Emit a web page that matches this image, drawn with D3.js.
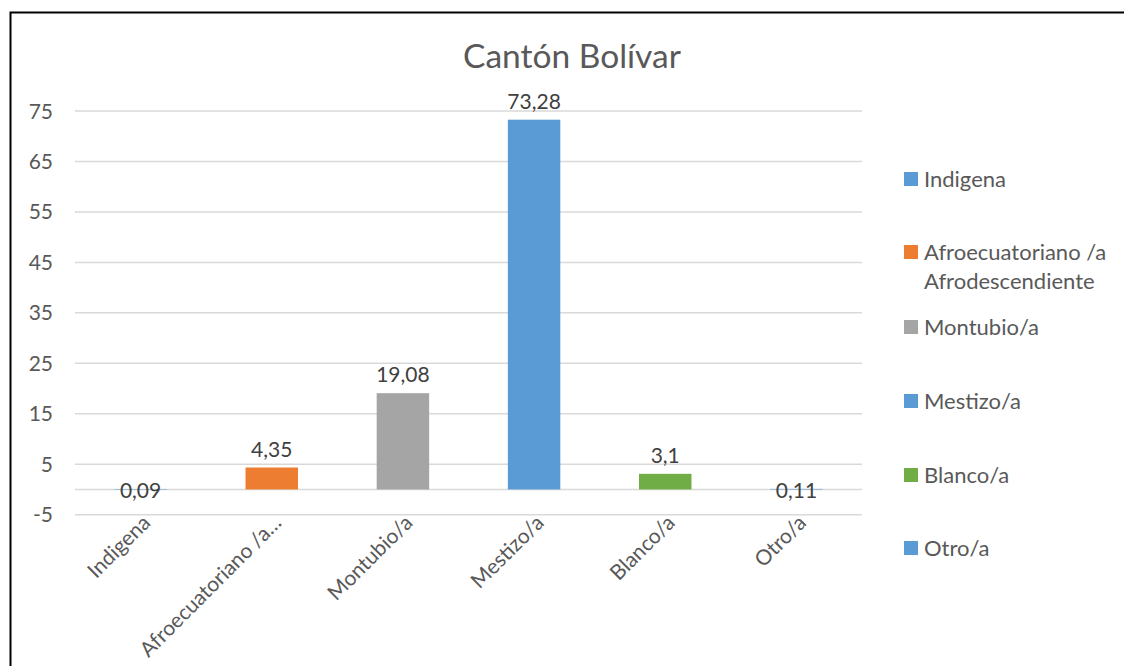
<!DOCTYPE html>
<html>
<head>
<meta charset="utf-8">
<script src="https://cdn.jsdelivr.net/npm/d3@7"></script>
<style>
  body { margin: 0; background: #fff; }
  text { font-family: Lato, "Open Sans", sans-serif; }
</style>
</head>
<body>
<div id="chart"></div>
<script>
const categories = ["Indigena", "Afroecuatoriano /a Afrodescendiente", "Montubio/a", "Mestizo/a", "Blanco/a", "Otro/a"];
const tickLabels = ["Indigena", "Afroecuatoriano /a…", "Montubio/a", "Mestizo/a", "Blanco/a", "Otro/a"];
const values = [0.09, 4.35, 19.08, 73.28, 3.1, 0.11];
const valueLabels = ["0,09", "4,35", "19,08", "73,28", "3,1", "0,11"];
const yTicks = [-5, 5, 15, 25, 35, 45, 55, 65, 75];
const colors = ["#5B9BD5", "#ED7D31", "#A5A5A5", "#5B9BD5", "#70AD47", "#5B9BD5"];

const width = 1124, height = 666;

const svg = d3.select("#chart")
    .append("svg")
    .attr("width", width)
    .attr("height", height);

// outer frame (cut off at right/bottom like the source)
svg.append("rect")
    .attr("x", 10.5)
    .attr("y", 12.5)
    .attr("width", width + 20)
    .attr("height", height + 20)
    .attr("fill", "white")
    .attr("stroke", "#000")
    .attr("stroke-width", 2);

const x = d3.scaleBand()
    .domain(categories)
    .range([75, 862])
    .padding(0);

const y = d3.scaleLinear()
    .domain([-5, 75])
    .range([514.7, 111]);

// gridlines
svg.append("g")
    .selectAll("line")
    .data(yTicks.concat([0]))
    .enter()
    .append("line")
    .attr("x1", 75)
    .attr("x2", 862)
    .attr("y1", d => y(d))
    .attr("y2", d => y(d))
    .attr("stroke", "#D9D9D9")
    .attr("stroke-width", 1.5);

// y tick labels
svg.append("g")
    .selectAll("text")
    .data(yTicks)
    .enter()
    .append("text")
    .attr("x", 53)
    .attr("y", d => y(d))
    .attr("dy", "0.36em")
    .attr("text-anchor", "end")
    .style("font-size", "21px")
    .style("fill", "#595959")
    .text(d => d);

// bars
const barW = x.bandwidth() * 0.4;
svg.append("g")
    .selectAll("rect")
    .data(values)
    .enter()
    .append("rect")
    .attr("x", (d, i) => x(categories[i]) + (x.bandwidth() - barW) / 2)
    .attr("y", d => y(d))
    .attr("width", barW)
    .attr("height", d => y(0) - y(d))
    .attr("fill", (d, i) => colors[i]);

// data labels
svg.append("g")
    .selectAll("text")
    .data(values)
    .enter()
    .append("text")
    .attr("x", (d, i) => x(categories[i]) + x.bandwidth() / 2)
    .attr("y", d => d < 1 ? y(0) + 9 : y(d) - 11)
    .attr("text-anchor", "middle")
    .style("font-size", "21px")
    .style("fill", "#404040")
    .text((d, i) => valueLabels[i]);

// x labels, rotated
svg.append("g")
    .selectAll("text")
    .data(tickLabels)
    .enter()
    .append("text")
    .attr("transform", (d, i) => `translate(${x(categories[i]) + x.bandwidth() / 2 + 11},524) rotate(-45)`)
    .attr("text-anchor", "end")
    .style("font-size", "21px")
    .style("fill", "#595959")
    .text(d => d);

// title
svg.append("text")
    .attr("x", 572)
    .attr("y", 68)
    .attr("text-anchor", "middle")
    .style("font-size", "33.5px")
    .style("fill", "#595959")
    .text("Cantón Bolívar");

// legend
const legendY = [179, 252, 327, 401, 475, 548];
const legendLines = [["Indigena"], ["Afroecuatoriano /a", "Afrodescendiente"], ["Montubio/a"], ["Mestizo/a"], ["Blanco/a"], ["Otro/a"]];
const legend = svg.append("g");

categories.forEach((c, i) => {
    const row = legend.append("g")
        .attr("transform", `translate(904,${legendY[i]})`);

    row.append("rect")
        .attr("x", 0)
        .attr("y", -7)
        .attr("width", 14)
        .attr("height", 14)
        .attr("fill", colors[i]);

    legendLines[i].forEach((t, j) => {
        row.append("text")
            .attr("x", 20)
            .attr("y", j * 29)
            .attr("dy", "0.36em")
            .style("font-size", "22px")
            .style("fill", "#595959")
            .text(t);
    });
});
</script>
</body>
</html>
